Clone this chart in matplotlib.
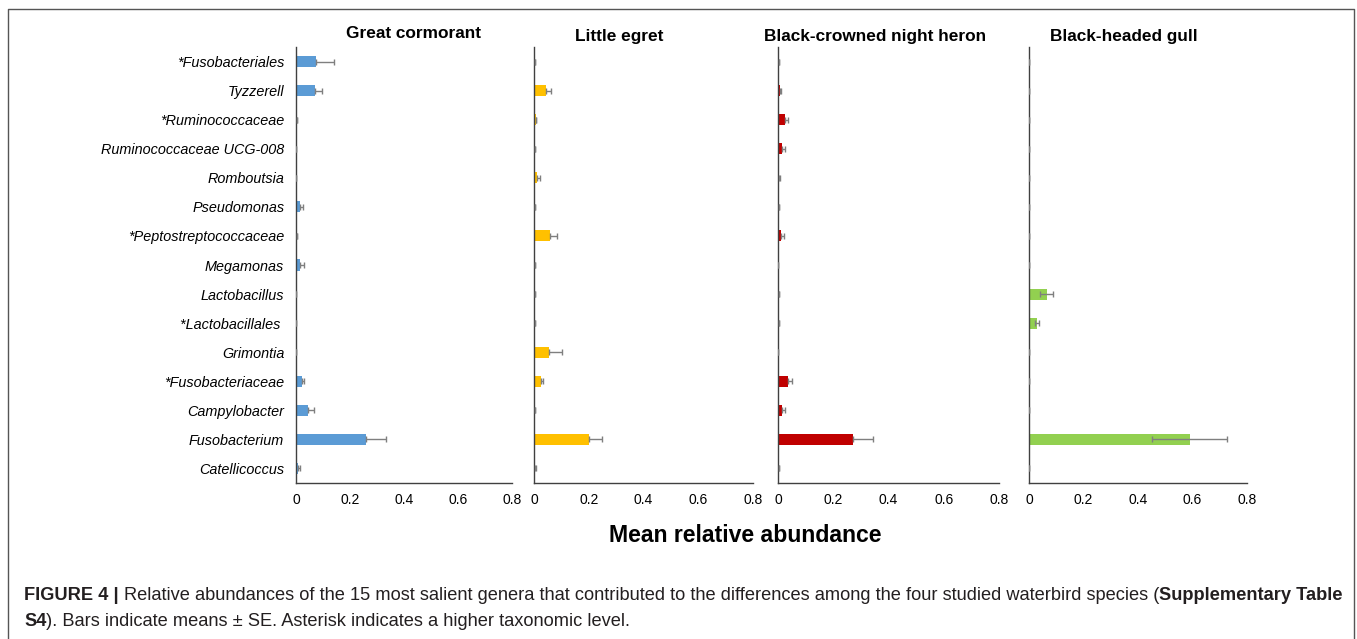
import matplotlib
matplotlib.use("Agg")
import matplotlib.pyplot as plt
import numpy as np
from matplotlib.lines import Line2D

plt.rcParams['font.family'] = ['Liberation Sans', 'DejaVu Sans']

# ---------------- data ----------------
genera = ["*Fusobacteriales", "Tyzzerell", "*Ruminococcaceae", "Ruminococcaceae UCG-008",
          "Romboutsia", "Pseudomonas", "*Peptostreptococcaceae", "Megamonas",
          "Lactobacillus", "*Lactobacillales ", "Grimontia", "*Fusobacteriaceae",
          "Campylobacter", "Fusobacterium", "Catellicoccus"]

species = ["Great cormorant", "Little egret", "Black-crowned night heron", "Black-headed gull"]
colors = ["#5B9BD5", "#FFC000", "#C00000", "#92D050"]

cormorant_mean = [0.073, 0.070, 0.002, 0.0, 0.0, 0.015, 0.003, 0.015, 0.0, 0.0, 0.0, 0.023, 0.046, 0.258, 0.009]
cormorant_se   = [0.067, 0.027, 0.001, 0.0, 0.0, 0.011, 0.001, 0.015, 0.0, 0.0, 0.0, 0.008, 0.022, 0.076, 0.006]
egret_mean = [0.003, 0.045, 0.006, 0.002, 0.012, 0.004, 0.057, 0.002, 0.002, 0.002, 0.054, 0.024, 0.003, 0.200, 0.005]
egret_se   = [0.000, 0.018, 0.002, 0.000, 0.009, 0.001, 0.027, 0.000, 0.000, 0.000, 0.048, 0.009, 0.001, 0.050, 0.002]
heron_mean = [0.002, 0.006, 0.025, 0.016, 0.005, 0.002, 0.012, 0.0, 0.003, 0.003, 0.0, 0.036, 0.016, 0.270, 0.002]
heron_se   = [0.000, 0.004, 0.010, 0.008, 0.002, 0.000, 0.008, 0.0, 0.000, 0.000, 0.0, 0.014, 0.008, 0.074, 0.000]
gull_mean = [0.0, 0.0, 0.0, 0.0, 0.0, 0.0, 0.0, 0.0, 0.065, 0.028, 0.001, 0.001, 0.001, 0.590, 0.0]
gull_se   = [0.0, 0.0, 0.0, 0.0, 0.0, 0.0, 0.0, 0.0, 0.023, 0.007, 0.0, 0.0, 0.0, 0.138, 0.0]

means = [cormorant_mean, egret_mean, heron_mean, gull_mean]
ses = [cormorant_se, egret_se, heron_se, gull_se]
both_sides = [False, False, False, True]

xticks = [0, 0.2, 0.4, 0.6, 0.8]
xticklabels = ["0", "0.2", "0.4", "0.6", "0.8"]

# ---------------- layout ----------------
W, H = 1357, 639
fig = plt.figure(figsize=(W / 100, H / 100), dpi=100)

def px_axes(x0, x1, y0, y1):
    return fig.add_axes([x0 / W, 1 - y1 / H, (x1 - x0) / W, (y1 - y0) / H])

panel_px = [(296, 512), (534, 753), (778, 999), (1029, 1247)]
title_x = [414, 619, 875, 1124]
title_y = [33, 37, 36, 36]
top, bottom = 47, 483

n = len(genera)
ypos = np.arange(n)[::-1]

for i, (x0, x1) in enumerate(panel_px):
    ax = px_axes(x0, x1, top, bottom)
    m = np.array(means[i])
    s = np.array(ses[i])
    lo = s if both_sides[i] else np.zeros_like(s)
    ax.barh(ypos, m, height=0.38, color=colors[i], zorder=2)
    ax.errorbar(m, ypos, xerr=[lo, s], fmt='none', ecolor='#7f7f7f',
                elinewidth=1.0, capsize=2.5, capthick=1.0, zorder=3)
    ax.set_xlim(0, 0.8)
    ax.set_ylim(-0.5, n - 0.5)
    ax.set_xticks(xticks)
    ax.set_xticklabels(xticklabels, fontsize=10)
    ax.tick_params(axis='x', length=0, pad=7)
    ax.tick_params(axis='y', length=0, pad=8.5)
    if i == 0:
        ax.set_yticks(ypos)
        ax.set_yticklabels(genera, fontsize=10.4, style='italic')
    else:
        ax.set_yticks([])
    for sp in ['top', 'right']:
        ax.spines[sp].set_visible(False)
    for sp in ['left', 'bottom']:
        ax.spines[sp].set_color('#404040')
        ax.spines[sp].set_linewidth(1.0)
    fig.text(title_x[i] / W, 1 - title_y[i] / H, species[i], ha='center', va='center',
             fontsize=12.4, fontweight='bold')

fig.text(745 / W, 1 - 535 / H, "Mean relative abundance", ha='center', va='center',
         fontsize=16.6, fontweight='bold')

# frame (left, top, right)
fig.add_artist(Line2D([8 / W, 8 / W, 1354 / W, 1354 / W],
                      [0, 1 - 9 / H, 1 - 9 / H, 0], transform=fig.transFigure,
                      color='#555555', lw=1.0))

# caption
renderer = fig.canvas.get_renderer()
def caption_line(pieces, x_start, y_center, size=13.17):
    x = x_start
    for txt, bold in pieces:
        t = fig.text(x / W, 1 - y_center / H, txt, ha='left', va='center',
                     fontsize=size, fontweight='bold' if bold else 'normal', color='#231f20')
        bb = t.get_window_extent(renderer)
        x += bb.width

caption_line([("FIGURE 4 | ", True),
              ("Relative abundances of the 15 most salient genera that contributed to the differences among the four studied waterbird species (", False),
              ("Supplementary Table", True)], 24, 595)
caption_line([("S4", True),
              ("). Bars indicate means \u00b1 SE. Asterisk indicates a higher taxonomic level.", False)], 24, 621)

fig.savefig("out.png", dpi=100)
